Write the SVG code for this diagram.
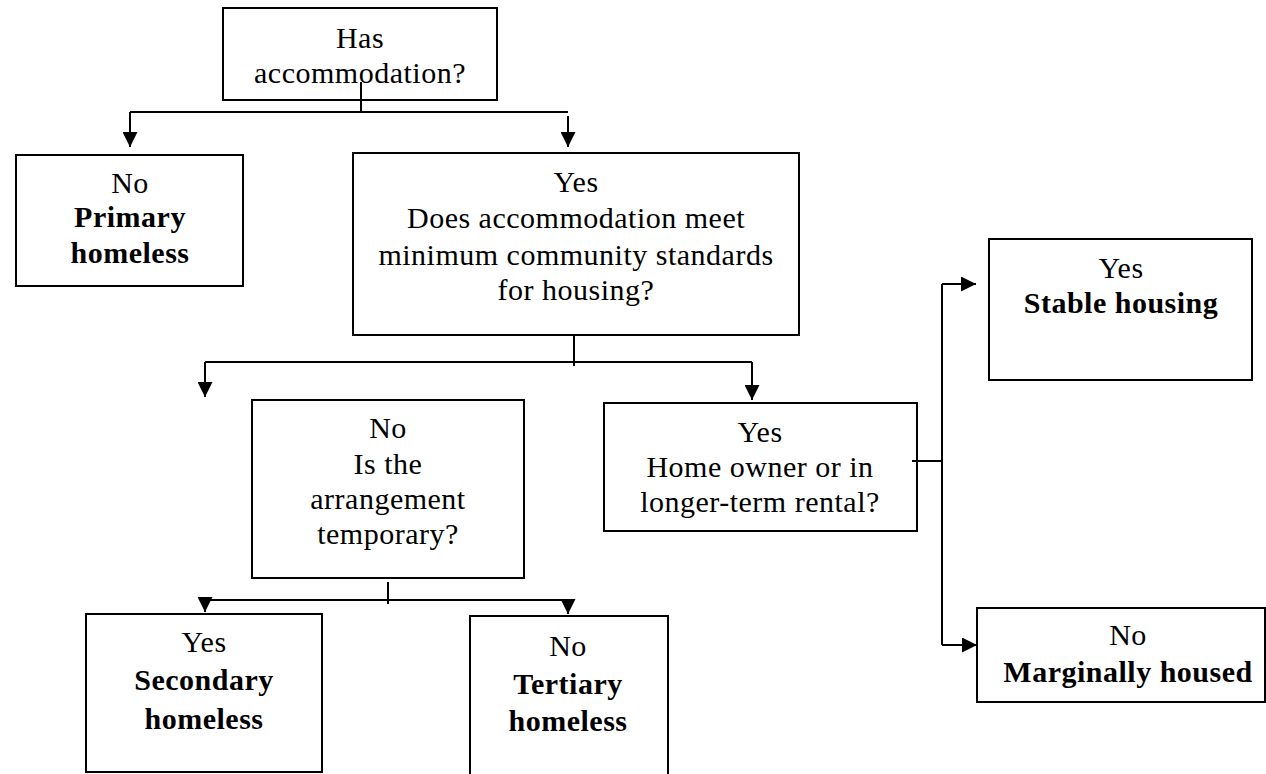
<svg xmlns="http://www.w3.org/2000/svg" width="1266" height="774" viewBox="0 0 1266 774">
<defs>
<marker id="ah" viewBox="0 0 15 15" refX="15" refY="7.5" markerWidth="15" markerHeight="15" markerUnits="userSpaceOnUse" orient="auto">
<path d="M0,0 L15,7.5 L0,15 Z" fill="#000"/>
</marker>
</defs>
<style>
.box{fill:#fff;stroke:#000;stroke-width:2}
.t{font-family:"Liberation Serif","Times New Roman",serif;font-size:30px;letter-spacing:0.5px;fill:#000;text-anchor:middle}
.b{font-weight:bold}
.c{fill:none;stroke:#000;stroke-width:2}
.a{fill:none;stroke:#000;stroke-width:2;marker-end:url(#ah)}
</style>
<rect width="1266" height="774" fill="#fff"/>
<g id="n1">
<rect class="box" x="223" y="8" width="274" height="92"/>
<text class="t" x="360" y="48">Has</text>
<text class="t" x="360" y="83">accommodation?</text>
</g>
<g id="n2">
<rect class="box" x="16" y="155" width="227" height="131"/>
<text class="t" x="130" y="193">No</text>
<text class="t b" x="130" y="227">Primary</text>
<text class="t b" x="130" y="263">homeless</text>
</g>
<g id="n3">
<rect class="box" x="353" y="153" width="446" height="182"/>
<text class="t" x="576" y="192">Yes</text>
<text class="t" x="576" y="228">Does accommodation meet</text>
<text class="t" x="576" y="265">minimum community standards</text>
<text class="t" x="576" y="300">for housing?</text>
</g>
<g id="n4">
<rect class="box" x="252" y="400" width="272" height="178"/>
<text class="t" x="388" y="438">No</text>
<text class="t" x="388" y="474">Is the</text>
<text class="t" x="388" y="509">arrangement</text>
<text class="t" x="388" y="544">temporary?</text>
</g>
<g id="n5">
<rect class="box" x="604" y="403" width="313" height="128"/>
<text class="t" x="760" y="442">Yes</text>
<text class="t" x="760" y="477">Home owner or in</text>
<text class="t" x="760" y="512">longer-term rental?</text>
</g>
<g id="n6">
<rect class="box" x="989" y="239" width="263" height="141"/>
<text class="t" x="1121" y="278">Yes</text>
<text class="t b" x="1121" y="313">Stable housing</text>
</g>
<g id="n7">
<rect class="box" x="977" y="608" width="288" height="94"/>
<text class="t" x="1128" y="645">No</text>
<text class="t b" x="1128" y="682">Marginally housed</text>
</g>
<g id="n8">
<rect class="box" x="86" y="614" width="236" height="158"/>
<text class="t" x="204" y="652">Yes</text>
<text class="t b" x="204" y="690">Secondary</text>
<text class="t b" x="204" y="729">homeless</text>
</g>
<g id="n9">
<rect class="box" x="470" y="616" width="198" height="160"/>
<text class="t" x="568" y="656">No</text>
<text class="t b" x="568" y="694">Tertiary</text>
<text class="t b" x="568" y="731">homeless</text>
</g>
<g id="connectors">
<path class="c" d="M361,82 V112"/>
<path class="c" d="M130,112 H568"/>
<path class="a" d="M130,112 V147"/>
<path class="a" d="M568,116 V147"/>
<path class="c" d="M574,335 V366"/>
<path class="c" d="M205,362 H752"/>
<path class="a" d="M205,362 V397"/>
<path class="a" d="M752,362 V400"/>
<path class="c" d="M388,582 V604"/>
<path class="c" d="M205,600 H568"/>
<path class="a" d="M205,600 V612"/>
<path class="a" d="M568,600 V614"/>
<path class="c" d="M912,461 H942"/>
<path class="c" d="M942,284 V645"/>
<path class="a" d="M942,284 H976"/>
<path class="a" d="M942,645 H977"/>
</g>
</svg>
